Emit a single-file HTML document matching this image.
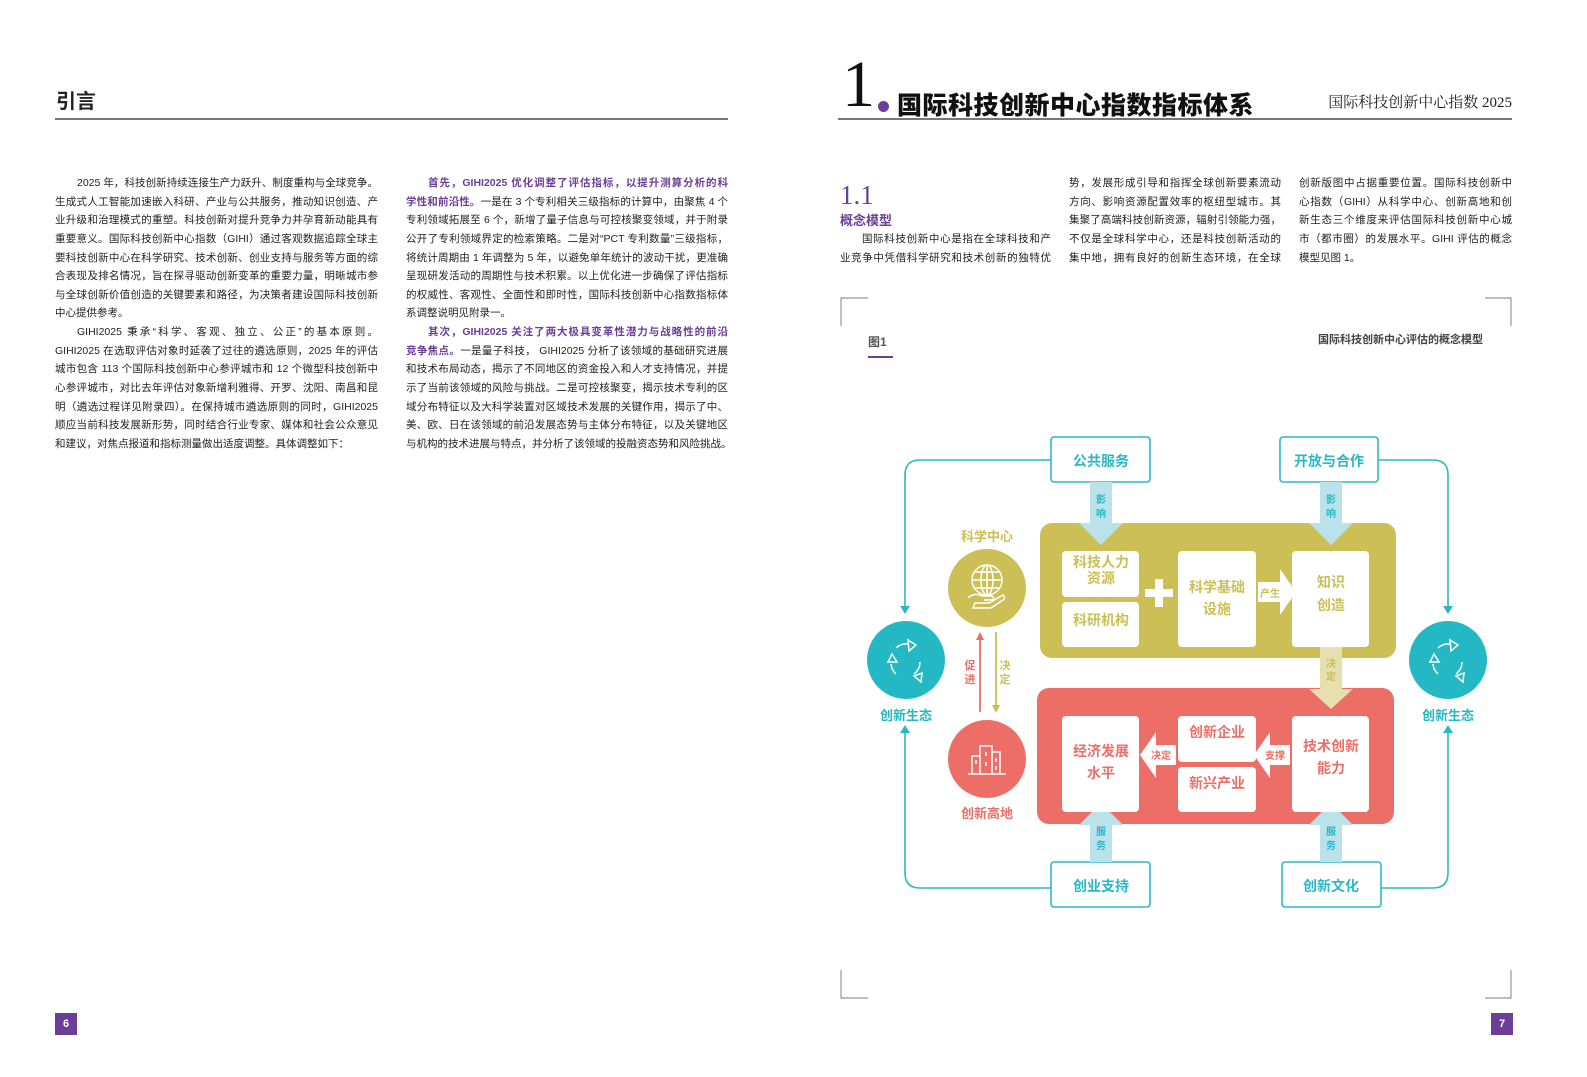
<!DOCTYPE html>
<html><head><meta charset="utf-8">
<style>
*{margin:0;padding:0;box-sizing:border-box}
body{width:1587px;height:1077px;background:#fff;position:relative;overflow:hidden;font-family:"Liberation Sans","Noto Sans CJK SC",sans-serif;color:#222}
.col{position:absolute;font-size:10.5px;line-height:18.65px}
.col div{white-space:nowrap;height:18.65px;overflow:visible}
.j{text-align:justify;text-align-last:justify}
.i{padding-left:22px}
.p{color:#6b3e98;font-weight:bold}
.abs{position:absolute}
</style></head><body>

<div class="abs" style="left:56px;top:85px;font-size:20px;font-weight:bold;color:#222">引言</div>
<div class="abs" style="left:55px;top:118px;width:673px;height:2px;background:#777"></div>
<div class="abs" style="left:838px;top:118px;width:674px;height:2px;background:#777"></div>

<div class="abs" style="left:842px;top:52px;font-family:'Liberation Serif',serif;font-size:66px;line-height:66px;color:#111">1</div>
<div class="abs" style="left:878px;top:101px;width:11px;height:11px;border-radius:50%;background:#6b3e98"></div>
<div class="abs" style="left:897px;top:86px;font-size:25px;font-weight:900;color:#111;font-family:'Noto Sans CJK SC',sans-serif;letter-spacing:0.5px">国际科技创新中心指数指标体系</div>
<div class="abs" style="left:1300px;width:212px;text-align:right;top:91px;font-size:15px;color:#222;font-family:'Liberation Serif','Noto Serif CJK SC',serif">国际科技创新中心指数 2025</div>

<div class="col" style="left:55px;top:174px;width:323px">
<div class="j i">2025 年，科技创新持续连接生产力跃升、制度重构与全球竞争。</div>
<div class="j">生成式人工智能加速嵌入科研、产业与公共服务，推动知识创造、产</div>
<div class="j">业升级和治理模式的重塑。科技创新对提升竞争力并孕育新动能具有</div>
<div class="j">重要意义。国际科技创新中心指数（GIHI）通过客观数据追踪全球主</div>
<div class="j">要科技创新中心在科学研究、技术创新、创业支持与服务等方面的综</div>
<div class="j">合表现及排名情况，旨在探寻驱动创新变革的重要力量，明晰城市参</div>
<div class="j">与全球创新价值创造的关键要素和路径，为决策者建设国际科技创新</div>
<div>中心提供参考。</div>
<div class="j i">GIHI2025 秉承“科学、客观、独立、公正”的基本原则。</div>
<div class="j">GIHI2025 在选取评估对象时延袭了过往的遴选原则，2025 年的评估</div>
<div class="j">城市包含 113 个国际科技创新中心参评城市和 12 个微型科技创新中</div>
<div class="j">心参评城市，对比去年评估对象新增利雅得、开罗、沈阳、南昌和昆</div>
<div class="j">明（遴选过程详见附录四）。在保持城市遴选原则的同时，GIHI2025</div>
<div class="j">顺应当前科技发展新形势，同时结合行业专家、媒体和社会公众意见</div>
<div>和建议，对焦点报道和指标测量做出适度调整。具体调整如下：</div>
</div>

<div class="col" style="left:406px;top:174px;width:322px">
<div class="j i"><span class="p">首先，GIHI2025 优化调整了评估指标，以提升测算分析的科</span></div>
<div class="j"><span class="p">学性和前沿性。</span>一是在 3 个专利相关三级指标的计算中，由聚焦 4 个</div>
<div class="j">专利领域拓展至 6 个，新增了量子信息与可控核聚变领域，并于附录</div>
<div class="j">公开了专利领域界定的检索策略。二是对“PCT 专利数量”三级指标，</div>
<div class="j">将统计周期由 1 年调整为 5 年，以避免单年统计的波动干扰，更准确</div>
<div class="j">呈现研发活动的周期性与技术积累。以上优化进一步确保了评估指标</div>
<div class="j">的权威性、客观性、全面性和即时性，国际科技创新中心指数指标体</div>
<div>系调整说明见附录一。</div>
<div class="j i"><span class="p">其次，GIHI2025 关注了两大极具变革性潜力与战略性的前沿</span></div>
<div class="j"><span class="p">竞争焦点。</span>一是量子科技， GIHI2025 分析了该领域的基础研究进展</div>
<div class="j">和技术布局动态，揭示了不同地区的资金投入和人才支持情况，并提</div>
<div class="j">示了当前该领域的风险与挑战。二是可控核聚变，揭示技术专利的区</div>
<div class="j">域分布特征以及大科学装置对区域技术发展的关键作用，揭示了中、</div>
<div class="j">美、欧、日在该领域的前沿发展态势与主体分布特征，以及关键地区</div>
<div class="j">与机构的技术进展与特点，并分析了该领域的投融资态势和风险挑战。</div>
</div>

<div class="abs" style="left:840px;top:180px;font-family:'Liberation Serif',serif;font-size:27px;line-height:30px;color:#6b3e98">1.1</div>
<div class="abs" style="left:840px;top:210px;font-size:13px;font-weight:bold;color:#6b3e98">概念模型</div>
<div class="col" style="left:840px;top:230px;width:211px">
<div class="j i">国际科技创新中心是指在全球科技和产</div>
<div class="j">业竞争中凭借科学研究和技术创新的独特优</div>
</div>
<div class="col" style="left:1069px;top:174px;width:212px">
<div class="j">势，发展形成引导和指挥全球创新要素流动</div>
<div class="j">方向、影响资源配置效率的枢纽型城市。其</div>
<div class="j">集聚了高端科技创新资源，辐射引领能力强，</div>
<div class="j">不仅是全球科学中心，还是科技创新活动的</div>
<div class="j">集中地，拥有良好的创新生态环境，在全球</div>
</div>
<div class="col" style="left:1299px;top:174px;width:213px">
<div class="j">创新版图中占据重要位置。国际科技创新中</div>
<div class="j">心指数（GIHI）从科学中心、创新高地和创</div>
<div class="j">新生态三个维度来评估国际科技创新中心城</div>
<div class="j">市（都市圈）的发展水平。GIHI 评估的概念</div>
<div>模型见图 1。</div>
</div>

<div class="abs" style="left:868px;top:333px;font-size:12px;font-weight:bold;color:#555">图1</div>
<div class="abs" style="left:868px;top:356px;width:25px;height:2px;background:#6b3e98"></div>
<div class="abs" style="left:1300px;width:183px;text-align:right;top:331px;font-size:11px;font-weight:bold;color:#444">国际科技创新中心评估的概念模型</div>

<div class="abs" style="left:55px;top:1013px;width:22px;height:22px;background:#6b3e98;color:#fff;font-size:11px;font-weight:bold;text-align:center;line-height:22px">6</div>
<div class="abs" style="left:1491px;top:1013px;width:22px;height:22px;background:#6b3e98;color:#fff;font-size:11px;font-weight:bold;text-align:center;line-height:22px">7</div>

<svg class="abs" style="left:0;top:0" width="1587" height="1077" viewBox="0 0 1587 1077" font-family="Liberation Sans, Noto Sans CJK SC, sans-serif">
<g stroke="#999" stroke-width="1.2" fill="none">
<path d="M841 326V298H868"/><path d="M1485 298H1511V326"/>
<path d="M841 970V998H868"/><path d="M1485 998H1511V970"/>
</g>
<g stroke="#2bb8c6" stroke-width="1.6" fill="none">
<path d="M1051 460H920Q905 460 905 475V606"/>
<path d="M1378 460H1433Q1448 460 1448 475V606"/>
<path d="M1051 888H920Q905 888 905 873V732"/>
<path d="M1282 888H1433Q1448 888 1448 873V732"/>
</g>
<g fill="#2bb8c6">
<path d="M900 606h10l-5 8z"/><path d="M1443 606h10l-5 8z"/>
<path d="M900 733h10l-5 -8z"/><path d="M1443 733h10l-5 -8z"/>
</g>
<g fill="#fff" stroke="#2bb8c6" stroke-width="1.6">
<rect x="1051" y="437" width="99" height="45" rx="3"/>
<rect x="1280" y="437" width="98" height="45" rx="3"/>
<rect x="1051" y="862" width="99" height="45" rx="3"/>
<rect x="1282" y="862" width="99" height="45" rx="3"/>
</g>
<g fill="#2bb8c6" font-size="14" font-weight="bold" text-anchor="middle">
<text x="1101" y="466">公共服务</text><text x="1329" y="466">开放与合作</text>
<text x="1101" y="891">创业支持</text><text x="1331" y="891">创新文化</text>
</g>
<rect x="1040" y="523" width="356" height="135" rx="12" fill="#cbbf55"/>
<rect x="1037" y="688" width="357" height="136" rx="12" fill="#ec6e66"/>
<g fill="#b9e2ea">
<path d="M1090 482h22v41h11l-22 22-22-22h11z"/>
<path d="M1320 482h22v41h11l-22 22-22-22h11z"/>
<path d="M1090 862h22v-37h11l-22-22-22 22h11z"/>
<path d="M1320 862h22v-37h11l-22-22-22 22h11z"/>
</g>
<path d="M1320 646h22v43h11l-22 20-22-20h11z" fill="#e6dfae"/>
<g font-size="10" font-weight="bold" text-anchor="middle">
<g fill="#2bb8c6"><text x="1101" y="503">影</text><text x="1101" y="517">响</text>
<text x="1331" y="503">影</text><text x="1331" y="517">响</text>
<text x="1101" y="835">服</text><text x="1101" y="849">务</text>
<text x="1331" y="835">服</text><text x="1331" y="849">务</text></g>
<g fill="#cbbf55"><text x="1331" y="667">决</text><text x="1331" y="680">定</text></g>
</g>
<g fill="#fff">
<rect x="1062" y="551" width="77" height="46" rx="4"/>
<rect x="1062" y="602" width="77" height="45" rx="4"/>
<rect x="1178" y="551" width="78" height="96" rx="4"/>
<rect x="1292" y="551" width="77" height="96" rx="4"/>
<rect x="1062" y="716" width="77" height="96" rx="4"/>
<rect x="1178" y="716" width="78" height="46" rx="4"/>
<rect x="1178" y="767" width="78" height="45" rx="4"/>
<rect x="1292" y="716" width="77" height="96" rx="4"/>
<path d="M1155 579h8v10h10v8h-10v10h-8v-10h-10v-8h10z"/>
<path d="M1258 582h22v-13l16 23-16 23v-13h-22z"/>
<path d="M1176 745h-20v-13l-16 23 16 23v-13h20z"/>
<path d="M1290 745h-20v-13l-16 23 16 23v-13h20z"/>
</g>
<g fill="#cbbf55" font-size="14" font-weight="bold" text-anchor="middle">
<text x="1101" y="567">科技人力</text><text x="1101" y="583">资源</text>
<text x="1101" y="625">科研机构</text>
<text x="1217" y="592">科学基础</text><text x="1217" y="614">设施</text>
<text x="1331" y="587">知识</text><text x="1331" y="610">创造</text>
<text x="1270" y="597" font-size="10">产生</text>
</g>
<g fill="#ec6e66" font-size="14" font-weight="bold" text-anchor="middle">
<text x="1101" y="756">经济发展</text><text x="1101" y="778">水平</text>
<text x="1217" y="737">创新企业</text><text x="1217" y="788">新兴产业</text>
<text x="1331" y="751">技术创新</text><text x="1331" y="773">能力</text>
<text x="1161" y="759" font-size="10">决定</text><text x="1275" y="759" font-size="10">支撑</text>
</g>
<circle cx="987" cy="588" r="39" fill="#cbbf55"/>
<circle cx="987" cy="759" r="39" fill="#ec6e66"/>
<circle cx="906" cy="660" r="39" fill="#24b8c5"/>
<circle cx="1448" cy="660" r="39" fill="#24b8c5"/>
<text x="987" y="541" fill="#cbbf55" font-size="13" font-weight="bold" text-anchor="middle">科学中心</text>
<text x="987" y="818" fill="#ec6e66" font-size="13" font-weight="bold" text-anchor="middle">创新高地</text>
<text x="906" y="720" fill="#24b8c5" font-size="13" font-weight="bold" text-anchor="middle">创新生态</text>
<text x="1448" y="720" fill="#24b8c5" font-size="13" font-weight="bold" text-anchor="middle">创新生态</text>
<g stroke="#fff" stroke-width="1.5" fill="none">
<circle cx="987" cy="580" r="15"/><ellipse cx="987" cy="580" rx="6" ry="15"/>
<path d="M972 580h30M975 572h24M975 588h24M987 565v30"/>
<path d="M968 598q6-6 14-2h10q3 2 0 4h-8M975 603h14l14-8q3 2 0 5l-12 8h-18z"/>
<path d="M968 774h38M972 774v-18h8v-6M980 774v-28h12v28M992 774v-22h8v22M976 760v4M986 752v4M986 762v4M996 758v4M996 766v4"/>
<g>
<path d="M896 648a15 15 0 0 1 12-4M920 662a15 15 0 0 1-6 12M896 674a15 15 0 0 1-5-10"/>
<path d="M908 640l8 5-7 6z"/><path d="M914 676l8-3-1 9z"/><path d="M888 662l4-8 5 8z"/>
</g>
<g transform="translate(542,0)">
<path d="M896 648a15 15 0 0 1 12-4M920 662a15 15 0 0 1-6 12M896 674a15 15 0 0 1-5-10"/>
<path d="M908 640l8 5-7 6z"/><path d="M914 676l8-3-1 9z"/><path d="M888 662l4-8 5 8z"/>
</g>
</g>
<path d="M980 712V638" stroke="#ec6e66" stroke-width="1.8"/>
<path d="M976 640l4-8 4 8z" fill="#ec6e66"/>
<path d="M996 632V706" stroke="#cbbf55" stroke-width="1.8"/>
<path d="M992 705l4 8 4-8z" fill="#cbbf55"/>
<g font-size="11" font-weight="bold" text-anchor="middle">
<text x="970" y="669" fill="#ec6e66">促</text><text x="970" y="683" fill="#ec6e66">进</text>
<text x="1005" y="669" fill="#cbbf55">决</text><text x="1005" y="683" fill="#cbbf55">定</text>
</g>
</svg>
</body></html>
